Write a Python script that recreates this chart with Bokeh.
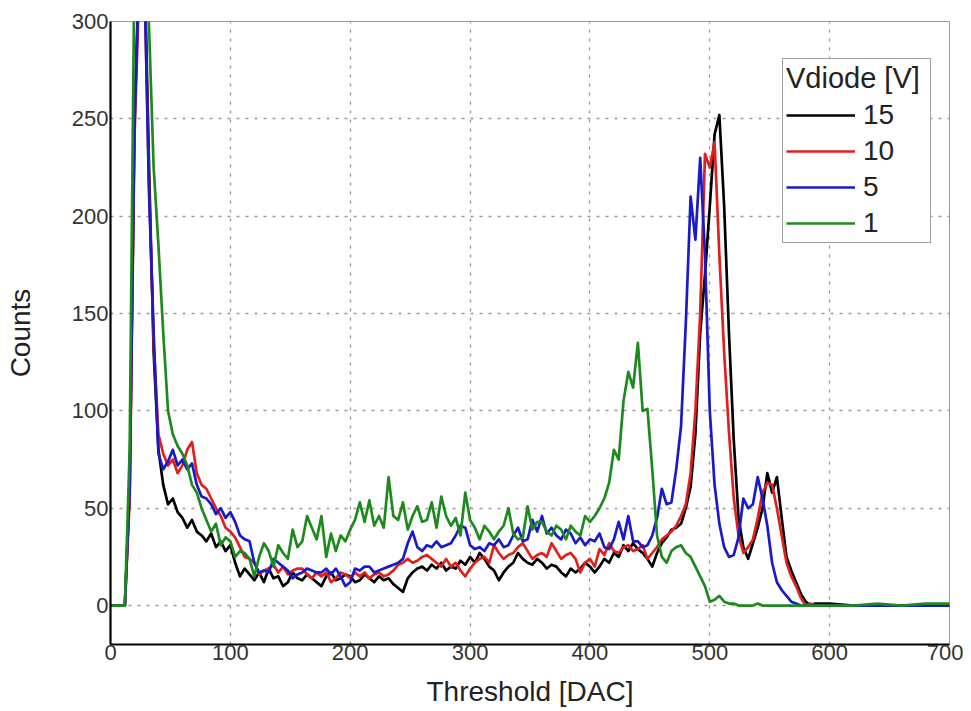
from bokeh.plotting import figure
from bokeh.models import Range1d, FixedTicker, Legend, LegendItem, ColumnDataSource
from bokeh.embed import file_html
from bokeh.resources import INLINE

# Threshold [DAC] sample positions
threshold = list(range(0, 592, 4)) + [600, 620, 640, 660, 680, 700]

series_labels = ["15", "10", "5", "1"]

counts_15V = [
    0, 0, 0, 0, 60, 250, 330, 340, 230, 130,
    80, 62, 52, 55, 48, 45, 40, 44, 38, 36,
    33, 37, 30, 33, 28, 31, 22, 15, 19, 16,
    13, 17, 12, 19, 14, 15, 10, 12, 17, 14,
    13, 16, 14, 12, 10, 15, 17, 13, 14, 16,
    15, 12, 13, 16, 14, 12, 15, 13, 14, 11,
    9, 7, 14, 17, 19, 20, 18, 21, 19, 22,
    18, 20, 19, 23, 21, 25, 22, 27, 24, 20,
    18, 13, 17, 20, 22, 27, 24, 22, 21, 24,
    22, 19, 21, 20, 17, 15, 19, 17, 19, 22,
    20, 17, 20, 24, 22, 27, 25, 31, 28, 32,
    29, 27, 24, 20, 27, 32, 35, 39, 40, 42,
    50, 61, 88, 140, 170, 205, 242, 252, 205, 140,
    85, 45, 30, 24, 32, 40, 50, 68, 58, 66,
    45, 25, 18, 12, 6, 2, 0, 1,
    1, 0, 0, 0, 0, 0,
]

counts_10V = [
    0, 0, 0, 0, 55, 240, 320, 330, 220, 135,
    88, 78, 72, 75, 68, 72, 80, 84, 68, 62,
    60, 55, 50, 46, 40, 38, 35, 30, 25, 24,
    22, 16, 18, 19, 21, 17, 20, 16, 18, 19,
    19, 16, 14, 17, 15, 17, 12, 14, 17, 16,
    14, 17, 15, 17, 14, 16, 17, 15, 16, 18,
    21, 22, 24, 22, 23, 25, 26, 24, 22, 20,
    24, 20, 22, 18, 15, 19, 22, 24, 25, 22,
    31, 27, 24, 26, 27, 30, 32, 28, 24, 26,
    27, 25, 32, 28, 24, 26, 27, 24, 17, 22,
    24, 20, 29, 26, 32, 28, 27, 30, 31, 28,
    29, 31, 24, 27, 30, 34, 36, 38, 41, 46,
    52, 68, 100, 150, 232, 225, 238, 180, 130, 89,
    55, 36, 27, 30, 34, 45, 58, 63, 62, 50,
    36, 22, 15, 10, 4, 0, 1, 0,
    0, 0, 0, 0, 0, 0,
]

counts_5V = [
    0, 0, 0, 0, 60, 245, 330, 335, 215, 140,
    78, 70, 74, 80, 72, 75, 70, 73, 62, 56,
    55, 52, 47, 50, 45, 48, 43, 36, 34, 33,
    22, 17, 18, 17, 24, 22, 20, 18, 14, 16,
    17, 19, 18, 17, 17, 19, 16, 19, 15, 10,
    12, 19, 18, 20, 20, 17, 18, 19, 20, 21,
    22, 24, 32, 38, 30, 28, 31, 30, 33, 30,
    31, 32, 36, 41, 40, 31, 29, 30, 28, 32,
    31, 34, 30, 31, 36, 40, 33, 34, 44, 38,
    46, 37, 40, 36, 34, 39, 37, 32, 35, 31,
    34, 33, 37, 30, 29, 34, 43, 34, 46, 33,
    33, 30, 31, 36, 45, 60, 52, 53, 70, 92,
    145, 210, 188, 230, 180, 100, 62, 42, 30, 25,
    26, 35, 55, 50, 52, 66, 55, 41, 22, 12,
    8, 5, 2, 1, 0, 0, 0, 0,
    0, 0, 0, 0, 0, 0,
]

counts_1V = [
    0, 0, 0, 0, 80, 330, 335, 335, 300, 225,
    185, 140, 100, 88, 82, 78, 72, 62, 58, 50,
    44, 38, 42, 31, 35, 33, 25, 28, 27, 24,
    15, 25, 32, 28, 20, 31, 27, 24, 39, 30,
    33, 46, 40, 34, 46, 25, 37, 28, 36, 33,
    39, 44, 53, 43, 54, 41, 46, 40, 66, 46,
    44, 53, 39, 46, 51, 43, 44, 53, 40, 56,
    46, 41, 45, 36, 58, 44, 40, 34, 41, 38,
    34, 38, 41, 50, 37, 34, 35, 51, 39, 43,
    43, 38, 36, 41, 39, 34, 41, 38, 36, 46,
    43, 46, 50, 55, 63, 80, 75, 105, 120, 112,
    135, 100, 101, 70, 36, 25, 22, 28, 30, 31,
    27, 25, 20, 15, 10, 2, 3, 5, 2, 1,
    1, 0, 0, 0, 0, 1, 0, 0, 0, 0,
    0, 0, 0, 0, 0, 0, 0, 0,
    0, 0, 1, 0, 1, 1,
]

x_ticks = [0, 100, 200, 300, 400, 500, 600, 700]
y_ticks = [0, 50, 100, 150, 200, 250, 300]

colors = ["#000000", "#e0201e", "#1a1ac8", "#1e8a1e"]

FONT = "Liberation Sans"

p = figure(width=963, height=709,
           x_range=Range1d(0, 700), y_range=Range1d(-20, 300),
           output_backend="svg", toolbar_location=None,
           min_border_left=110, min_border_right=14,
           min_border_top=21, min_border_bottom=62)

p.background_fill_color = "white"
p.border_fill_color = "white"
p.outline_line_color = "#999999"
p.outline_line_width = 1

# grid
p.xgrid.ticker = FixedTicker(ticks=x_ticks)
p.ygrid.ticker = FixedTicker(ticks=y_ticks)
for g in (p.xgrid, p.ygrid):
    g.grid_line_color = "#9a9a9a"
    g.grid_line_dash = "3 6"
    g.grid_line_width = 1.3

# axes
p.xaxis.ticker = FixedTicker(ticks=x_ticks)
p.yaxis.ticker = FixedTicker(ticks=y_ticks)
for ax in (p.xaxis[0], p.yaxis[0]):
    ax.axis_line_color = "black"
    ax.axis_line_width = 2.2
    ax.major_tick_in = 0
    ax.major_tick_out = 0
    ax.minor_tick_in = 0
    ax.minor_tick_out = 0
    ax.major_label_text_font = FONT
    ax.major_label_text_font_size = "22px"
    ax.major_label_text_color = "#333333"
    ax.axis_label_text_font = FONT
    ax.axis_label_text_font_size = "28px"
    ax.axis_label_text_font_style = "normal"
    ax.axis_label_text_color = "#222222"

p.xaxis.major_label_standoff = 0
p.yaxis.major_label_standoff = 2
p.xaxis.axis_label = "Threshold [DAC]"
p.yaxis.axis_label = "Counts"
p.xaxis.axis_label_standoff = 13
p.yaxis.axis_label_standoff = 33

src = ColumnDataSource(dict(x=threshold, c15=counts_15V, c10=counts_10V,
                            c5=counts_5V, c1=counts_1V))
renderers = []
for col, color in zip(["c15", "c10", "c5", "c1"], colors):
    r = p.line("x", col, source=src, line_color=color, line_width=2.7,
               line_join="round")
    renderers.append(r)

legend = Legend(items=[LegendItem(label=lab, renderers=[r])
                       for lab, r in zip(series_labels, renderers)],
                location=(672, 401))
legend.title = "Vdiode [V]"
legend.title_text_font = FONT
legend.title_text_font_size = "29px"
legend.title_text_font_style = "normal"
legend.title_text_color = "#222222"
legend.title_standoff = 4
legend.label_text_font = FONT
legend.label_text_font_size = "28px"
legend.label_text_color = "#222222"
legend.glyph_width = 69
legend.glyph_height = 30
legend.label_height = 30
legend.label_width = 64
legend.label_standoff = 8
legend.spacing = 4
legend.padding = 3
legend.margin = 0
legend.border_line_color = "#444444"
legend.border_line_width = 1.5
legend.background_fill_color = "white"
legend.background_fill_alpha = 1.0
p.add_layout(legend)

open("out.html", "w").write(file_html(p, INLINE))
